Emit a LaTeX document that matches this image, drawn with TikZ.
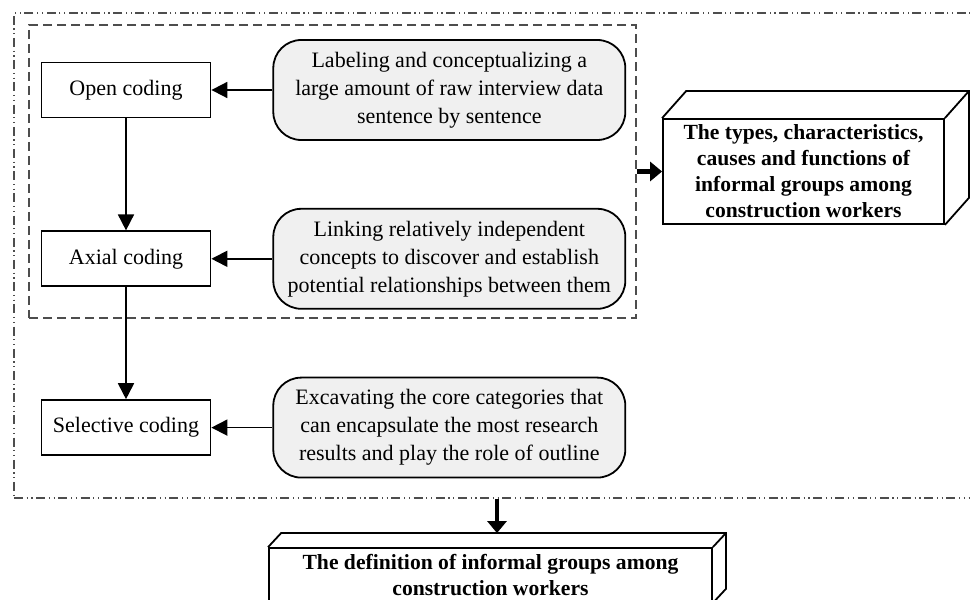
\documentclass[tikz,border=0pt]{standalone}
\usepackage{fontspec}
\setmainfont{Liberation Serif}
\usetikzlibrary{positioning,arrows.meta}
\definecolor{notefill}{HTML}{F0F0F0}
\definecolor{framegray}{HTML}{4D4D4D}
\tikzset{stage/.style={draw,line width=0.9pt,minimum width=84.5pt,minimum height=27.5pt,font=\fontsize{11}{13}\selectfont},
note/.style={draw,line width=0.9pt,rounded corners=14pt,fill=notefill,minimum width=176pt,minimum height=50pt,align=center,inner xsep=1pt,font=\fontsize{11}{14}\selectfont},
result/.style={draw,line width=0.9pt,fill=white,align=center,inner sep=0pt,font=\bfseries\fontsize{10.8}{13}\selectfont},
phaseframe/.style={draw=framegray,line width=0.6pt,dash pattern=on 4.5pt off 2.5pt,inner sep=0pt},
wholeframe/.style={draw=framegray,line width=0.6pt,dash pattern=on 4.5pt off 1.8pt on 0.6pt off 1.8pt on 0.6pt off 1.8pt,inner sep=0pt},
link/.style={draw,line width=0.9pt,-{Triangle[length=8pt,width=8pt]}},
bigarrow/.style={draw,line width=2.2pt,-{Triangle[length=6pt,width=9.5pt]}}}
% top and side faces of a box node
\newcommand{\cuboid}[3]{%
\draw[line width=0.9pt] (#1.north west) -- ++(#2,#3) -- ([shift={(#2,#3)}]#1.north east) -- ([shift={(#2,#3)}]#1.south east) -- (#1.south east);
\draw[line width=0.9pt] (#1.north east) -- ++(#2,#3);}
\begin{document}
\begin{tikzpicture}[x=1pt,y=1pt,node distance=56pt and 30.5pt]
\useasboundingbox (0,0) rectangle (485,300);
% frames
\node[wholeframe,minimum width=483pt,minimum height=242.5pt] (whole) at (248.5,172.25) {};
\node[phaseframe,minimum width=303.5pt,minimum height=146.5pt] (phase) at (166.25,214.25) {};
% coding steps
\node[stage] (open) at (63,255) {Open coding};
\node[stage,below=of open] (axial) {Axial coding};
\node[stage,below=of axial] (select) {Selective coding};
\node[note,right=of open] (opennote) {Labeling and conceptualizing a\\large amount of raw interview data\\sentence by sentence};
\node[note,right=of axial] (axialnote) {Linking relatively independent\\concepts to discover and establish\\potential relationships between them};
\node[note,right=of select] (selectnote) {Excavating the core categories that\\can encapsulate the most research\\results and play the role of outline};
\draw[link] (opennote) -- (open);
\draw[link] (axialnote) -- (axial);
\draw[link] (selectnote) -- (select);
\draw[link] (open) -- (axial);
\draw[link] (axial) -- (select);
% results
\node[result,minimum width=140.5pt,minimum height=52.5pt] (types) at (401.75,214.25) {The types, characteristics,\\causes and functions of\\informal groups among\\construction workers};
\cuboid{types}{12}{13.5}
\node[result,minimum width=221.5pt,minimum height=27pt] (defn) at (245.25,12.5) {The definition of informal groups among\\construction workers};
\cuboid{defn}{6.5}{7}
\draw[bigarrow] (phase.east) -- (types.west);
\draw[bigarrow] (whole.south) -- ([yshift=7pt]whole.south |- defn.north);
\end{tikzpicture}
\end{document}
